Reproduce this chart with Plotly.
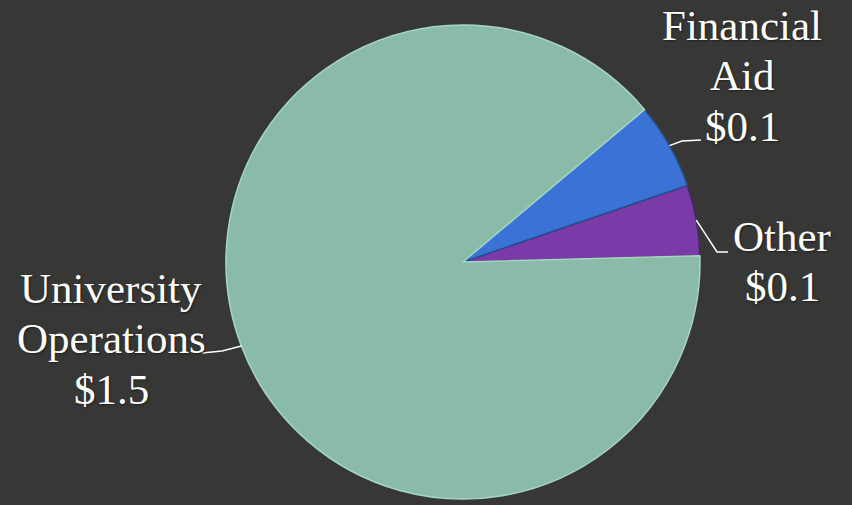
import math
import plotly.graph_objects as go

# ---- data ----
categories = ["Other", "Financial Aid", "University Operations"]
label_lines = [["Other"], ["Financial", "Aid"], ["University", "Operations"]]
values = [0.082, 0.10, 1.52]
colors = ["#7a3aa8", "#3a72d6", "#8abba8"]
edge_colors = ["#4e2470", "#24508f", "#a6d6c3"]

W, H = 852, 505
BG = "#373836"
START = 88.5  # where the first slice starts (degrees clockwise from 12 o'clock)

# pie placement in pixels
cx, cy, R = 463, 262, 237

total = sum(values)
spans = [v / total * 360 for v in values]

# plotly (counterclockwise): first slice covers [rotation, rotation + span]
fig = go.Figure(go.Pie(
    labels=categories,
    values=values,
    sort=False,
    direction="counterclockwise",
    rotation=START - spans[0],
    marker=dict(colors=colors, line=dict(color=edge_colors, width=1.5)),
    textinfo="none",
    hoverinfo="label+value",
    domain=dict(x=[(cx - R) / W, (cx + R) / W], y=[1 - (cy + R) / H, 1 - (cy - R) / H]),
    showlegend=False,
))

# label layout: center x and baseline of first line (pixels), line pitch
label_pos = {
    "Other": (782, 250),
    "Financial Aid": (742, 39),
    "University Operations": (111, 302),
}
LINE_PITCH = 50.5
FS = 43
leader_tail = {
    "Other": [(717, 252), (728, 252)],
    "Financial Aid": [(682, 141), (701, 140)],
    "University Operations": [(222, 351), (202, 353)],
}

def px(x):
    return x / W

def py(y):
    return 1 - y / H

start = START
font = dict(family="Liberation Serif, Times New Roman, serif", size=FS, color="white",
            shadow="1px 1px 2px #1e1f1d")
for cat, lines, v, span in zip(categories, label_lines, values, spans):
    mid = start - span / 2  # counterclockwise
    start -= span
    a = math.radians(mid)
    ax_ = cx + R * math.sin(a)
    ay_ = cy - R * math.cos(a)
    lx, base = label_pos[cat]
    for i, line in enumerate(lines + [f"${v:.1f}"]):
        yc = base + i * LINE_PITCH - 0.325 * FS
        fig.add_annotation(
            x=px(lx), y=py(yc), xref="paper", yref="paper",
            text=line, showarrow=False,
            xanchor="center", yanchor="middle", align="center", font=font,
        )
    pts = [(ax_, ay_)] + leader_tail[cat]
    path = "M " + " L ".join(f"{px(x):.5f},{py(y):.5f}" for x, y in pts)
    fig.add_shape(type="path", path=path, xref="paper", yref="paper",
                  line=dict(color="white", width=1.5))

fig.update_layout(
    width=W, height=H,
    margin=dict(l=0, r=0, t=0, b=0),
    paper_bgcolor=BG, plot_bgcolor=BG,
)

fig.write_html(
    "out.html",
    config={"displayModeBar": False},
    post_script=f"document.body.style.margin='0';document.body.style.background='{BG}';",
)
